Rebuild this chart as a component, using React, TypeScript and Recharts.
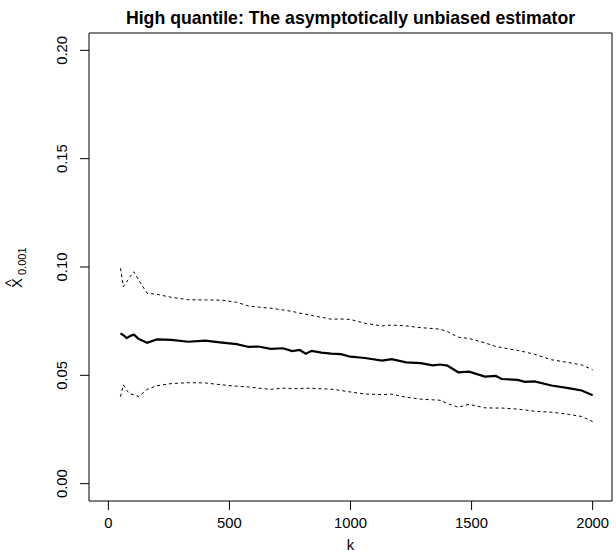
import React from "react";
import {
  LineChart,
  Line,
  XAxis,
  YAxis,
  ReferenceArea,
} from "recharts";

const kValues = [
  50, 62, 76, 90, 105, 125, 160, 200, 260, 330, 400, 470, 530, 580, 620, 670,
  720, 760, 790, 815, 840, 880, 920, 960, 1000, 1060, 1130, 1170, 1230, 1290,
  1340, 1370, 1400, 1445, 1490, 1555, 1600, 1625, 1690, 1720, 1760, 1830, 1900,
  1955, 2000,
];

const estimate = [
  0.0694, 0.0685, 0.0672, 0.0682, 0.0688, 0.0668, 0.065, 0.0666, 0.0664,
  0.0655, 0.066, 0.0651, 0.0644, 0.0631, 0.0633, 0.0622, 0.0625, 0.0612,
  0.0617, 0.06, 0.0613, 0.0605, 0.06, 0.0598, 0.0586, 0.058, 0.0568, 0.0575,
  0.056, 0.0556, 0.0546, 0.055, 0.0545, 0.0514, 0.0517, 0.0494, 0.0497, 0.0483,
  0.0479, 0.047, 0.0472, 0.0453, 0.0441, 0.043, 0.0408,
];

const upperBound = [
  0.0994, 0.0909, 0.0932, 0.0955, 0.0978, 0.094, 0.0879, 0.0874, 0.086,
  0.0849, 0.0848, 0.0847, 0.0837, 0.082, 0.0815, 0.081, 0.0802, 0.0795,
  0.0787, 0.0782, 0.0776, 0.0768, 0.0759, 0.076, 0.0758, 0.074, 0.0728,
  0.0732, 0.0728, 0.072, 0.0716, 0.0713, 0.0702, 0.0676, 0.067, 0.065, 0.0633,
  0.0628, 0.0615, 0.0608, 0.0597, 0.0572, 0.0559, 0.0548, 0.0526,
];

const lowerBound = [
  0.0402, 0.0456, 0.043, 0.0415, 0.041, 0.0402, 0.0435, 0.0452, 0.0462,
  0.0466, 0.0465, 0.0456, 0.045, 0.0446, 0.0441, 0.0435, 0.0441, 0.0439,
  0.0438, 0.0441, 0.044, 0.0438, 0.0436, 0.043, 0.0423, 0.0414, 0.0411,
  0.0413, 0.0399, 0.039, 0.0387, 0.0385, 0.037, 0.0353, 0.0366, 0.035, 0.0349,
  0.0349, 0.0344, 0.034, 0.0334, 0.033, 0.032, 0.031, 0.0287,
];

const xTicks = [0, 500, 1000, 1500, 2000];
const yTicks = [0, 0.05, 0.1, 0.15, 0.2];

const titleText = "High quantile: The asymptotically unbiased estimator";
const xLabelText = "k";

const data = kValues.map((k, i) => ({
  k,
  est: estimate[i],
  up: upperBound[i],
  lo: lowerBound[i],
}));

const FONT = "'Liberation Sans', Arial, Helvetica, sans-serif";
const FS = 14.8;

const YTick = (props: any) => {
  const { x, y, payload } = props;
  const bx = x - 10.7;
  return (
    <text
      x={bx}
      y={y}
      transform={`rotate(-90, ${bx}, ${y})`}
      textAnchor="middle"
      fontSize={FS}
      fontFamily={FONT}
      fill="#000"
    >
      {Number(payload.value).toFixed(2)}
    </text>
  );
};

const YLabel = () => (
  <g transform="translate(22, 288) rotate(-90)" fontFamily={FONT} fill="#000">
    <text x={0} y={0} fontSize={FS}>
      X
    </text>
    <text x={1.5} y={-6} fontSize={FS}>
      ^
    </text>
    <text x={13} y={3.5} fontSize={11}>
      0.001
    </text>
  </g>
);

export default function App() {
  return (
    <div style={{ position: "absolute", left: 0, top: 0, width: 616, height: 554, background: "#fff" }}>
      <LineChart
        width={616}
        height={554}
        data={data}
        margin={{ top: 33, right: 4, bottom: 23, left: 29 }}
      >
        <text
          x={350.5}
          y={24}
          textAnchor="middle"
          fontSize={17.7}
          fontWeight="bold"
          fontFamily={FONT}
          fill="#000"
        >
          {titleText}
        </text>
        <XAxis
          dataKey="k"
          type="number"
          domain={[-80, 2080]}
          ticks={xTicks}
          allowDataOverflow
          axisLine={false}
          tickLine={{ stroke: "#000" }}
          tickSize={9}
          tickMargin={7.5}
          height={30}
          tick={{ fontSize: FS, fontFamily: FONT, fill: "#000" }}
          label={{
            content: (p: any) => {
              const vb = p.viewBox;
              return (
                <text
                  x={vb.x + vb.width / 2}
                  y={550}
                  textAnchor="middle"
                  fontSize={FS}
                  fontFamily={FONT}
                  fill="#000"
                >
                  {xLabelText}
                </text>
              );
            },
          }}
        />
        <YAxis
          type="number"
          domain={[-0.008, 0.208]}
          ticks={yTicks}
          allowDataOverflow
          axisLine={false}
          tickLine={{ stroke: "#000" }}
          tickSize={9}
          tickMargin={2}
          width={60}
          tick={<YTick />}
          label={{ content: () => <YLabel /> }}
        />
        <ReferenceArea
          x1={-80}
          x2={2080}
          y1={-0.008}
          y2={0.208}
          fill="none"
          fillOpacity={0}
          stroke="#000"
          strokeWidth={1}
          ifOverflow="visible"
        />
        <Line
          dataKey="up"
          type="linear"
          stroke="#000"
          strokeWidth={1}
          strokeDasharray="3 3"
          dot={false}
          isAnimationActive={false}
        />
        <Line
          dataKey="lo"
          type="linear"
          stroke="#000"
          strokeWidth={1}
          strokeDasharray="3 3"
          dot={false}
          isAnimationActive={false}
        />
        <Line
          dataKey="est"
          type="linear"
          stroke="#000"
          strokeWidth={2.2}
          dot={false}
          isAnimationActive={false}
        />
      </LineChart>
    </div>
  );
}
